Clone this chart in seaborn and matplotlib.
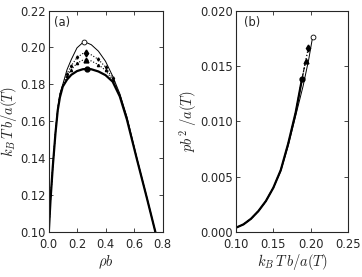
import numpy as np
import pandas as pd
import matplotlib
matplotlib.use("Agg")
import matplotlib.pyplot as plt
import seaborn as sns

# coexistence curves, panel (a): density vs temperature
rho = [0.002, 0.014, 0.030, 0.049, 0.065, 0.080, 0.100, 0.130, 0.160, 0.200, 0.240,
       0.270, 0.300, 0.350, 0.400, 0.450, 0.500, 0.550, 0.620, 0.690, 0.750]
t_thick = [0.1000, 0.1173, 0.1354, 0.1537, 0.1661, 0.1730, 0.1788, 0.1826, 0.1852, 0.1872, 0.1882,
           0.1884, 0.1882, 0.1870, 0.1850, 0.1815, 0.1735, 0.1610, 0.1395, 0.1185, 0.1000]
t_thin = [0.1000, 0.1175, 0.1358, 0.1545, 0.1672, 0.1750, 0.1800, 0.1880, 0.1935, 0.1998, 0.2026,
          0.2025, 0.2015, 0.1980, 0.1925, 0.1845, 0.1750, 0.1625, 0.1400, 0.1187, 0.1000]
t_diam = [0.1000, 0.1174, 0.1356, 0.1542, 0.1667, 0.1742, 0.1795, 0.1858, 0.1901, 0.1946, 0.1967,
          0.1967, 0.1960, 0.1935, 0.1894, 0.1833, 0.1744, 0.1619, 0.1398, 0.1186, 0.1000]
t_tri = [0.1000, 0.1174, 0.1355, 0.1540, 0.1665, 0.1737, 0.1792, 0.1844, 0.1880, 0.1915, 0.1931,
         0.1932, 0.1927, 0.1907, 0.1876, 0.1825, 0.1740, 0.1615, 0.1397, 0.1186, 0.1000]

# critical points (rho_c, T_c, p_c)
crit_thin = (0.250, 0.2027, 0.0176)
crit_diam = (0.265, 0.1969, 0.0166)
crit_tri = (0.265, 0.1932, 0.0154)
crit_thick = (0.272, 0.1884, 0.0138)

# vapour pressure, panel (b)
t_p = [0.100, 0.110, 0.120, 0.130, 0.140, 0.150, 0.160, 0.170, 0.180]
p_common = [0.0004, 0.0007, 0.0012, 0.0019, 0.0028, 0.0040, 0.0056, 0.0080, 0.0108]
t_p_thin = [0.100, 0.110, 0.120, 0.130, 0.140, 0.150, 0.160, 0.170, 0.180, 0.190, 0.1975]
p_thin = [0.0004, 0.0007, 0.0012, 0.0019, 0.0028, 0.0040, 0.0055, 0.0078, 0.0105, 0.0132, 0.0156]

sns.set_style("ticks")
plt.rcParams["mathtext.fontset"] = "cm"
plt.rcParams["font.family"] = ["DejaVu Sans"]
plt.rcParams["xtick.direction"] = "in"
plt.rcParams["ytick.direction"] = "in"
fs = 8.3
lfs = 10.5

fig = plt.figure(figsize=(3.62, 2.77), dpi=100)
ax1 = fig.add_axes([0.134, 0.162, 0.315, 0.800])
ax2 = fig.add_axes([0.652, 0.162, 0.309, 0.800])

# ---- panel (a)
curves = [(t_thin, "-", 0.7, None), (t_diam, ":", 0.8, "d"), (t_tri, ":", 0.8, "^"), (t_thick, "-", 1.6, None)]
for t, ls, lw, mk in curves:
    d = pd.DataFrame({"rho": rho, "T": t})
    sns.lineplot(data=d, x="rho", y="T", ax=ax1, color="black", lw=lw, linestyle=ls,
                 sort=False, estimator=None, legend=False)
    if mk is not None:
        sel = d.iloc[[7, 8, 9, 13, 14, 15]]
        ax1.plot(sel["rho"], sel["T"], linestyle="none", marker=mk, ms=1.6, color="black")

ax1.plot(crit_thin[0], crit_thin[1], "o", ms=3.5, mfc="white", mec="black", mew=0.6)
ax1.plot(crit_diam[0], crit_diam[1], "d", ms=3.5, color="black")
ax1.plot(crit_tri[0], crit_tri[1], "^", ms=3.5, color="black")
ax1.plot(crit_thick[0], crit_thick[1], "o", ms=3.5, color="black")

ax1.set_xlim(0, 0.8)
ax1.set_ylim(0.10, 0.22)
ax1.set_xticks([0.0, 0.2, 0.4, 0.6, 0.8])
ax1.set_yticks([0.10, 0.12, 0.14, 0.16, 0.18, 0.20, 0.22])
ax1.set_xlabel(r"$\rho b$", fontsize=lfs, labelpad=2)
ax1.set_ylabel(r"$k_B\,T\,b/a(T)$", fontsize=lfs, labelpad=1)
ax1.text(0.05, 0.975, "(a)", transform=ax1.transAxes, ha="left", va="top", fontsize=fs)

# ---- panel (b)
d = pd.DataFrame({"T": t_p_thin + [crit_thin[1]], "p": p_thin + [crit_thin[2]]})
sns.lineplot(data=d, x="T", y="p", ax=ax2, color="black", lw=0.7, sort=False, estimator=None)
d = pd.DataFrame({"T": t_p + [crit_thick[1], crit_diam[1]], "p": p_common + [crit_thick[2], crit_diam[2]]})
sns.lineplot(data=d, x="T", y="p", ax=ax2, color="black", lw=0.9, linestyle=":", sort=False, estimator=None)
d = pd.DataFrame({"T": t_p + [crit_thick[1], crit_tri[1]], "p": p_common + [crit_thick[2], crit_tri[2]]})
sns.lineplot(data=d, x="T", y="p", ax=ax2, color="black", lw=0.8, linestyle="--", sort=False, estimator=None)
d = pd.DataFrame({"T": t_p + [crit_thick[1]], "p": p_common + [crit_thick[2]]})
sns.lineplot(data=d, x="T", y="p", ax=ax2, color="black", lw=1.6, sort=False, estimator=None)

ax2.plot(crit_thin[1], crit_thin[2], "o", ms=3.5, mfc="white", mec="black", mew=0.6)
ax2.plot(crit_diam[1], crit_diam[2], "d", ms=3.5, color="black")
ax2.plot(crit_tri[1], crit_tri[2], "^", ms=3.5, color="black")
ax2.plot(crit_thick[1], crit_thick[2], "o", ms=3.5, color="black")

ax2.set_xlim(0.10, 0.25)
ax2.set_ylim(0.0, 0.020)
ax2.set_xticks([0.10, 0.15, 0.20, 0.25])
ax2.set_yticks([0.000, 0.005, 0.010, 0.015, 0.020])
ax2.set_yticklabels(["0.000", "0.005", "0.010", "0.015", "0.020"])
ax2.set_xlabel(r"$k_B\,T\,b/a(T)$", fontsize=lfs, labelpad=1)
ax2.set_ylabel(r"$pb^2\ /a(T)$", fontsize=lfs, labelpad=1)
ax2.text(0.07, 0.975, "(b)", transform=ax2.transAxes, ha="left", va="top", fontsize=fs)

for ax in (ax1, ax2):
    ax.tick_params(labelsize=fs, top=True, right=True, length=3, width=0.6, pad=2)
    ax.tick_params(axis="x", pad=4)
    for s in ax.spines.values():
        s.set_linewidth(0.8)

fig.savefig("out.png", dpi=100)
